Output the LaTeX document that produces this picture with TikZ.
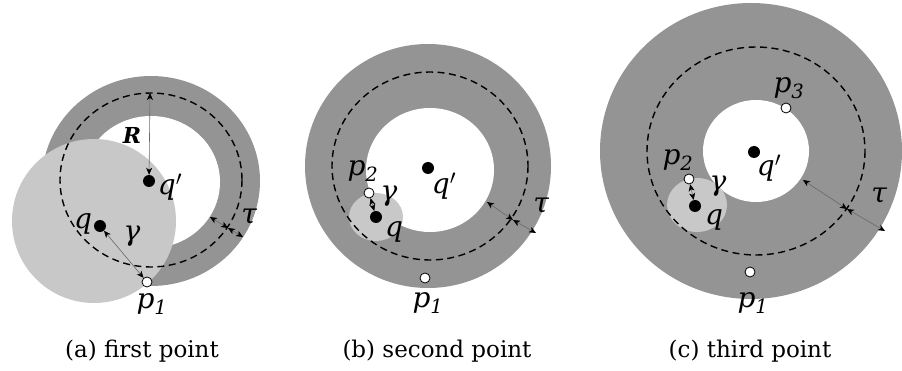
\documentclass[tikz,border=0pt]{standalone}
\usepackage{fontspec}
\setmainfont{DejaVu Serif}
\usetikzlibrary{arrows.meta}
\definecolor{ringgray}{RGB}{148,148,148}
\definecolor{diskgray}{RGB}{200,200,200}
\definecolor{dimgray}{RGB}{105,105,105}
\begin{document}
\begin{tikzpicture}[x=1pt,y=-1pt,
 ring/.style={fill=ringgray, draw=none},
 hole/.style={fill=white, draw=none},
 disk/.style={fill=diskgray, draw=none},
 orbit/.style={draw=black, line width=1.4pt, dash pattern=on 7pt off 4.5pt},
 dim/.style={draw=dimgray, line width=0.6pt, arrows={Stealth[black,length=7pt,width=6pt,inset=2pt]-Stealth[black,length=7pt,width=6pt,inset=2pt]}},
 bdot/.style={circle, fill=black, inner sep=0pt, minimum size=12pt},
 wdot/.style={circle, draw=black, line width=0.8pt, fill=white, inner sep=0pt, minimum size=10pt},
 lab/.style={font=\fontsize{28}{30}\selectfont\itshape, inner sep=0pt},
 captxt/.style={font=\fontsize{23}{26}\selectfont, inner sep=0pt}]
\useasboundingbox (0,0) rectangle (902,371);

% ---------- panel (a)
\fill[ring] (151,181) ellipse [x radius=109, y radius=105];
\fill[hole] (151,182) ellipse [x radius=69, y radius=66];
\fill[disk] (94,221) circle [radius=82];
\draw[orbit] (151,180) ellipse [x radius=91, y radius=87];
\node[bdot] (qpa) at (149,181) {};
\node[bdot] (qa) at (100,226) {};
\node[wdot] (p1a) at (147,282) {};
\coordinate (Ra) at (150,93);
\coordinate (tia) at (210,217);
\coordinate (tca) at (228,228);
\coordinate (toa) at (243,237);
\draw[dim] (qpa) -- (Ra);
\draw[dim] (qa) -- (p1a);
\draw[dim] (tia) -- (tca);
\draw[dim] (tca) -- (toa);
\node[lab, font=\fontsize{22}{24}\selectfont\bfseries\itshape] (Rla) at (132,135) {R};
\node[lab] (qpla) at (170,187) {q$'$};
\node[lab] (qla) at (83,224) {q};
\node[lab] (gla) at (132,236) {γ};
\node[lab] (tla) at (249,217) {τ};
\node[lab] (p1la) at (152,304) {p\textsubscript{1}};
\node[captxt] (capa) at (142,351) {(a) first point};

% ---------- panel (b)
\fill[ring] (428,166) ellipse [x radius=123, y radius=122];
\fill[hole] (430,170) ellipse [x radius=64, y radius=62];
\fill[disk] (376,217) ellipse [x radius=27, y radius=24];
\draw[orbit] (430,166) ellipse [x radius=98, y radius=94];
\node[bdot] (qpb) at (428,168) {};
\node[bdot] (qb) at (376,217) {};
\node[wdot] (p2b) at (369,193) {};
\node[wdot] (p1b) at (425,278) {};
\coordinate (tib) at (487,202);
\coordinate (tcb) at (513,220);
\coordinate (tob) at (536,233);
\draw[dim] (p2b) -- (qb);
\draw[dim] (tib) -- (tcb);
\draw[dim] (tcb) -- (tob);
\node[lab] (qplb) at (444,186) {q$'$};
\node[lab] (p2lb) at (363,171) {p\textsubscript{2}};
\node[lab] (glb) at (389,196) {γ};
\node[lab] (qlb) at (394,232) {q};
\node[lab] (p1lb) at (428,303) {p\textsubscript{1}};
\node[lab] (tlb) at (541,206) {τ};
\node[captxt] (capb) at (437,351) {(b) second point};

% ---------- panel (c)
\fill[ring] (751,151) ellipse [x radius=151, y radius=148];
\fill[hole] (756,151) ellipse [x radius=53, y radius=51];
\fill[disk] (697,205) ellipse [x radius=30, y radius=27];
\draw[orbit] (756,151) ellipse [x radius=109, y radius=104];
\node[bdot] (qpc) at (754,152) {};
\node[bdot] (qc) at (695,206) {};
\node[wdot] (p2c) at (689,179) {};
\node[wdot] (p3c) at (786,108) {};
\node[wdot] (p1c) at (750,272) {};
\coordinate (tic) at (803,180);
\coordinate (tcc) at (847,209);
\coordinate (toc) at (885,231);
\draw[dim] (p2c) -- (qc);
\draw[dim] (tic) -- (tcc);
\draw[dim] (tcc) -- (toc);
\node[lab] (qplc) at (769,168) {q$'$};
\node[lab] (p3lc) at (789,88) {p\textsubscript{3}};
\node[lab] (p2lc) at (678,160) {p\textsubscript{2}};
\node[lab] (glc) at (718,186) {γ};
\node[lab] (qlc) at (714,220) {q};
\node[lab] (p1lc) at (753,303) {p\textsubscript{1}};
\node[lab] (tlc) at (879,196) {τ};
\node[captxt] (capc) at (750,351) {(c) third point};
\end{tikzpicture}
\end{document}
